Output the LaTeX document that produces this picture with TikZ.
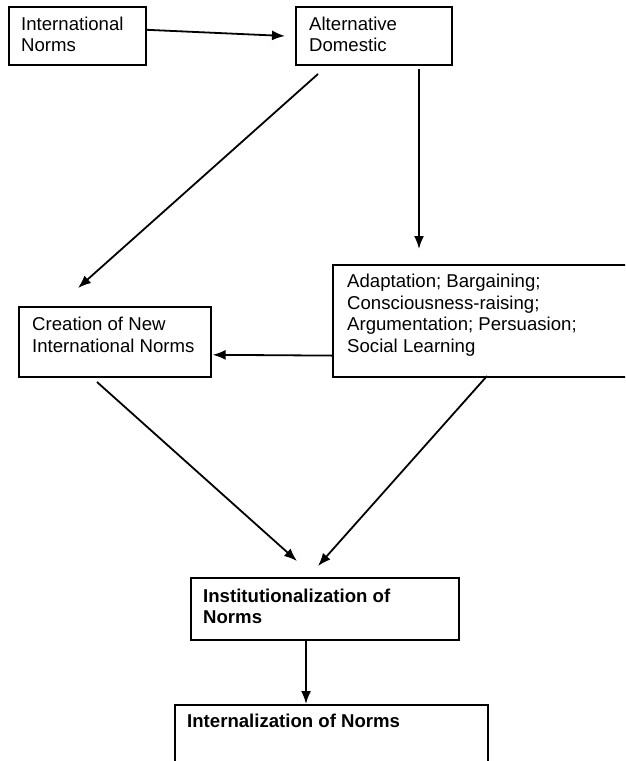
\documentclass[tikz,border=0pt]{standalone}
\usepackage{fontspec}
\setmainfont{Liberation Sans}
\usetikzlibrary{arrows.meta,calc}
\begin{document}
\begin{tikzpicture}[x=1pt,y=-1pt,
  box/.style={draw, line width=1.6pt, inner sep=0pt, anchor=north west},
  txt/.style={font=\fontsize{18.6}{21.5}\selectfont, align=left, inner sep=0pt, anchor=base west},
  btxt/.style={txt, font=\fontsize{18.6}{21.5}\selectfont\bfseries},
  arr/.style={line width=1.8pt, -{Latex[length=13pt,width=10pt]}}]
\useasboundingbox (0,0) rectangle (625,761);
\clip (0,0) rectangle (625,761);
% boxes
\node[box, minimum width=137pt, minimum height=58pt] (intl) at (8,6) {};
\node[txt] (intlT) at (21,51.5) {International\\Norms};
\node[box, minimum width=156pt, minimum height=58pt] (alt) at (295,6) {};
\node[txt] (altT) at (309,51.5) {Alternative\\Domestic};
\node[box, minimum width=320pt, minimum height=112pt] (mech) at (332,264) {};
\node[txt] (mechT) at (347,352) {Adaptation; Bargaining;\\Consciousness-raising;\\Argumentation; Persuasion;\\Social Learning};
\node[box, minimum width=192pt, minimum height=70pt] (new) at (18,306) {};
\node[txt] (newT) at (32,352) {Creation of New\\International Norms};
\node[box, minimum width=268pt, minimum height=62pt] (inst) at (190,577) {};
\node[btxt] (instT) at (203,623.5) {Institutionalization of\\Norms};
\node[box, minimum width=313pt, minimum height=80pt] (intz) at (174,704) {};
\node[btxt] (intzT) at (187,727) {Internalization of Norms};
% arrow end points
\coordinate (a1s) at ($(intl.east)+(0,-6)$);
\coordinate (a1e) at (285,36);
\coordinate (a2s) at (318,74);
\coordinate (a2e) at (78,288);
\coordinate (a3s) at (419,69);
\coordinate (a3e) at (419,249);
\coordinate (a4s) at ($(mech.south west)+(0,-22)$);
\coordinate (a4e) at ($(new.east)+(1,13)$);
\coordinate (a5s) at (97,382);
\coordinate (a5e) at (297,561);
\coordinate (a6s) at (487,376);
\coordinate (a6e) at (318,566);
\coordinate (a7s) at (306,639);
\coordinate (a7e) at (306,704);
% connectors
\draw[arr] (a1s) -- (a1e);
\draw[arr] (a2s) -- (a2e);
\draw[arr] (a3s) -- (a3e);
\draw[arr] (a4s) -- (a4e);
\draw[arr] (a5s) -- (a5e);
\draw[arr] (a6s) -- (a6e);
\draw[arr] (a7s) -- (a7e);
\end{tikzpicture}
\end{document}
